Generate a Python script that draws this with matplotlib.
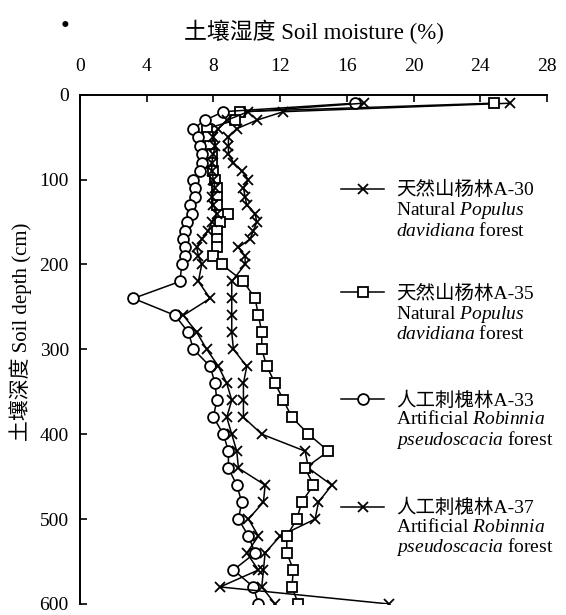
import matplotlib
matplotlib.use("Agg")
import matplotlib.pyplot as plt
from matplotlib.legend import Legend
from matplotlib.lines import Line2D

plt.rcParams["font.family"] = ["Liberation Serif", "Noto Sans CJK SC"]
plt.rcParams["mathtext.fontset"] = "custom"
plt.rcParams["mathtext.rm"] = "Liberation Serif"
plt.rcParams["mathtext.it"] = "Liberation Serif:italic"

# soil depth (cm): 10 cm steps to 200, then 20 cm steps
depth = [10, 20, 30, 40, 50, 60, 70, 80, 90, 100,
         110, 120, 130, 140, 150, 160, 170, 180, 190, 200,
         220, 240, 260, 280, 300, 320, 340, 360, 380, 400,
         420, 440, 460, 480, 500, 520, 540, 560, 580, 600]

# soil moisture (%) per site
a30 = [25.8, 12.2, 10.6, 9.4, 8.9, 8.9, 8.9, 9.2, 9.7, 10.1,
       9.8, 9.9, 10.0, 10.5, 10.6, 10.4, 10.2, 9.5, 9.9, 9.9,
       9.1, 9.1, 9.1, 9.1, 9.2, 10.0, 9.8, 9.8, 9.8, 10.9,
       13.5, 13.7, 15.1, 14.3, 14.1, 12.0, 11.1, 11.0, 10.9, 11.7]
a35 = [24.8, 9.6, 9.3, 7.6, 7.7, 7.8, 7.9, 7.9, 8.0, 8.1,
       8.2, 8.2, 8.2, 8.9, 8.4, 8.2, 8.2, 8.2, 8.0, 8.5,
       9.8, 10.5, 10.7, 10.9, 10.9, 11.2, 11.7, 12.2, 12.7, 13.7,
       14.9, 13.5, 14.0, 13.3, 13.0, 12.4, 12.4, 12.8, 12.7, 13.1]
a33 = [16.5, 8.6, 7.5, 6.8, 7.1, 7.2, 7.3, 7.3, 7.2, 6.8,
       6.9, 6.9, 6.6, 6.7, 6.4, 6.3, 6.2, 6.3, 6.3, 6.1,
       6.0, 3.2, 5.7, 6.5, 6.8, 7.8, 8.1, 8.2, 8.0, 8.6,
       8.9, 8.9, 9.4, 9.7, 9.5, 10.1, 10.5, 9.2, 10.4, 10.7]
a37 = [17.0, 10.1, 8.8, 8.3, 8.0, 8.1, 8.0, 7.9, 7.9, 8.0,
       8.1, 7.9, 8.0, 8.2, 7.9, 7.7, 7.3, 7.0, 7.1, 7.3,
       7.1, 7.8, 6.2, 7.0, 7.6, 8.3, 8.8, 9.1, 8.8, 9.1,
       9.4, 9.5, 11.1, 11.0, 10.1, 10.7, 10.0, 10.7, 8.4, 18.5]

series = [a30, a35, a33, a37]
markers = ["x", "s", "o", "x"]
labels_cn = ["天然山杨林A-30", "天然山杨林A-35", "人工刺槐林A-33", "人工刺槐林A-37"]
labels_en1 = ["Natural $\\mathit{Populus}$", "Natural $\\mathit{Populus}$",
              "Artificial $\\mathit{Robinnia}$", "Artificial $\\mathit{Robinnia}$"]
labels_en2 = ["$\\mathit{davidiana}$ forest", "$\\mathit{davidiana}$ forest",
              "$\\mathit{pseudoscacia}$ forest", "$\\mathit{pseudoscacia}$ forest"]

x_ticks = [0, 4, 8, 12, 16, 20, 24, 28]
y_ticks = [0, 100, 200, 300, 400, 500, 600]

fig = plt.figure(figsize=(5.66, 6.15), dpi=100)
ax = fig.add_axes([0.1413, 0.018, 0.8251, 0.828])

style = dict(color="black", linewidth=1.1, markersize=7.8, markeredgewidth=1.3,
             markerfacecolor="white", markeredgecolor="black")

handles = []
for vals, mk in zip(series, markers):
    (ln,) = ax.plot(vals, depth, marker=mk, **style)
    handles.append(ln)

ax.set_xlim(0, 28)
ax.set_ylim(600, 0)
ax.set_xticks(x_ticks)
ax.set_yticks(y_ticks)
ax.xaxis.tick_top()
ax.xaxis.set_label_position("top")
ax.tick_params(axis="x", direction="in", length=5, width=1.2, pad=14, labelsize=14)
ax.tick_params(axis="y", direction="in", length=5, width=1.2, pad=8, labelsize=14)
for side in ["right", "bottom"]:
    ax.spines[side].set_visible(False)
for side in ["left", "top"]:
    ax.spines[side].set_linewidth(1.4)

ax.set_xlabel("土壤湿度 Soil moisture (%)", fontsize=16.5, labelpad=14)
ax.set_ylabel("土壤深度 Soil depth (cm)", fontsize=15)
ax.yaxis.set_label_coords(-0.102, 0.535)

# one small legend per site: handle on the Chinese line, English lines below
blank = Line2D([], [], linestyle="none")
leg_tops = [0.830, 0.626, 0.417, 0.206]
for i, h in enumerate(handles):
    leg = Legend(ax, [h, blank, blank], [labels_cn[i], labels_en1[i], labels_en2[i]],
                 loc="upper left", bbox_to_anchor=(0.56, leg_tops[i]),
                 frameon=False, fontsize=14, numpoints=1, handlelength=2.2,
                 handletextpad=0.6, labelspacing=0.03, borderpad=0,
                 borderaxespad=0)
    ax.add_artist(leg)

fig.text(0.115, 0.956, "•", fontsize=18, ha="center", va="center")

fig.savefig("out.png", dpi=100)
